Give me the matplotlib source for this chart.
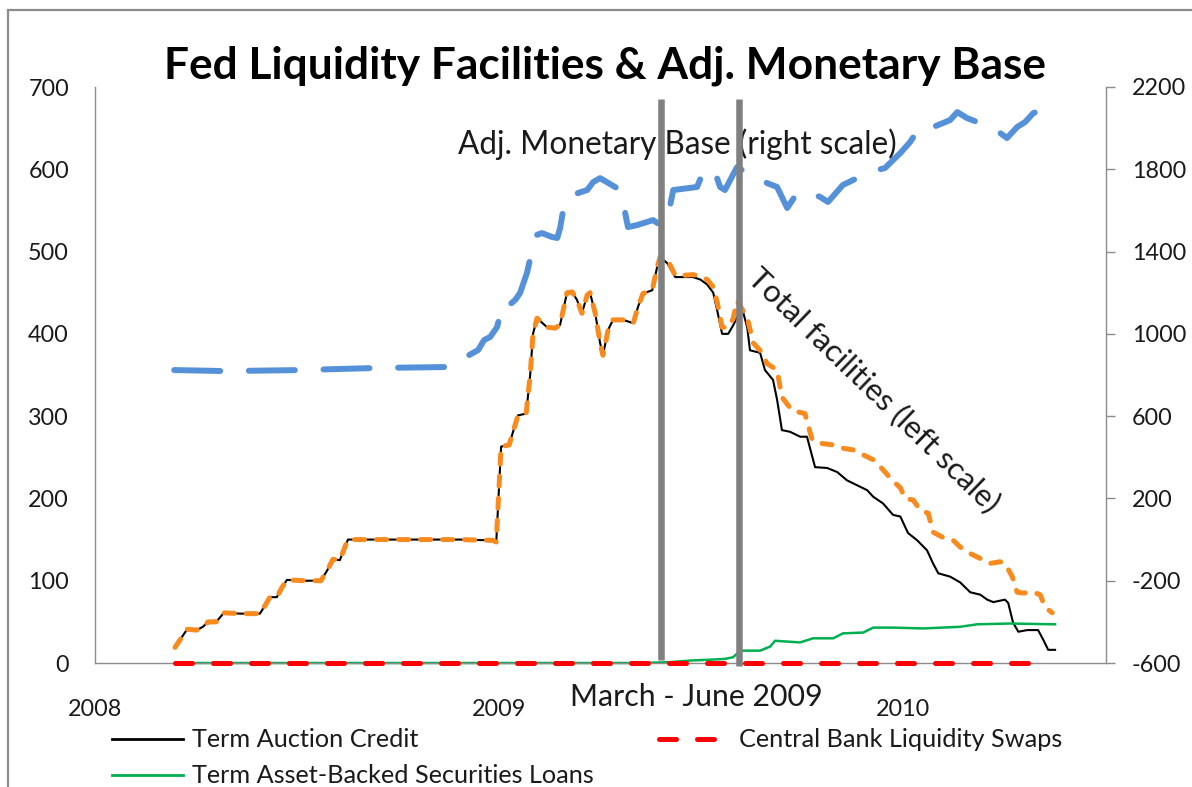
import matplotlib
matplotlib.use("Agg")
import matplotlib.pyplot as plt
from matplotlib.lines import Line2D
from matplotlib.patches import Rectangle

# ---------------- data ----------------
# Term Auction Credit (left scale, $bn)
tac_x = [2008.198, 2008.213, 2008.228, 2008.252, 2008.267, 2008.280, 2008.300, 2008.319, 2008.359, 2008.408,
         2008.421, 2008.433, 2008.450, 2008.463, 2008.475, 2008.520, 2008.559, 2008.574, 2008.589, 2008.606,
         2008.616, 2008.626, 2008.705, 2008.804, 2008.903, 2008.985, 2008.993, 2009.005, 2009.025, 2009.037,
         2009.047, 2009.067, 2009.077, 2009.084, 2009.094, 2009.119, 2009.139, 2009.151, 2009.168, 2009.181,
         2009.193, 2009.205, 2009.218, 2009.225, 2009.238, 2009.250, 2009.257, 2009.270, 2009.282, 2009.307,
         2009.332, 2009.344, 2009.356, 2009.379, 2009.391, 2009.399, 2009.416, 2009.436, 2009.455, 2009.480,
         2009.498, 2009.515, 2009.530, 2009.540, 2009.552, 2009.567, 2009.579, 2009.601, 2009.614, 2009.621,
         2009.646, 2009.658, 2009.678, 2009.688, 2009.700, 2009.720, 2009.745, 2009.762, 2009.782, 2009.812,
         2009.837, 2009.861, 2009.886, 2009.911, 2009.926, 2009.950, 2009.975, 2009.993, 2010.012, 2010.035,
         2010.059, 2010.074, 2010.087, 2010.116, 2010.141, 2010.166, 2010.191, 2010.208, 2010.223, 2010.252,
         2010.260, 2010.272, 2010.285, 2010.307, 2010.334, 2010.347, 2010.359, 2010.376]
tac_y = [19, 30, 41, 40, 44, 50, 50, 61, 60, 60,
         70, 80, 80, 92, 101, 100, 100, 112, 126, 125,
         138, 150, 150, 150, 150, 149, 147, 263, 265, 285,
         301, 303, 350, 400, 419, 408, 407, 411, 450, 451,
         441, 425, 447, 450, 425, 389, 374, 405, 417, 417,
         413, 433, 449, 453, 481, 493, 486, 469, 469, 469,
         466, 460, 450, 428, 400, 400, 410, 432, 408, 380,
         377, 356, 344, 320, 283, 281, 275, 275, 238, 237,
         232, 222, 216, 210, 202, 194, 180, 178, 158, 149,
         137, 121, 109, 105, 98, 86, 83, 77, 74, 77,
         73, 49, 38, 40, 40, 28, 16, 16]

# Total facilities (left scale): identical to TAC readings until spring 2009, then read separately
total_late_x = [2009.379, 2009.391, 2009.399, 2009.416, 2009.436, 2009.455, 2009.480, 2009.498, 2009.515, 2009.530,
                2009.540, 2009.552, 2009.567, 2009.579, 2009.589, 2009.614, 2009.629, 2009.646, 2009.663, 2009.688,
                2009.700, 2009.725, 2009.757, 2009.775, 2009.795, 2009.827, 2009.851, 2009.876, 2009.901, 2009.926,
                2009.950, 2009.973, 2009.993, 2010.005, 2010.025, 2010.042, 2010.062, 2010.074, 2010.097, 2010.124,
                2010.141, 2010.166, 2010.191, 2010.215, 2010.240, 2010.252, 2010.270, 2010.282, 2010.297, 2010.322,
                2010.339, 2010.351, 2010.369]
total_late_y = [453, 481, 494, 491, 471, 471, 472, 470, 466, 457,
                438, 408, 408, 418, 440, 420, 389, 380, 364, 356,
                323, 307, 303, 271, 267, 265, 261, 259, 253, 247,
                235, 222, 213, 200, 198, 186, 182, 159, 153, 149,
                141, 133, 127, 121, 123, 121, 105, 86, 85, 86,
                83, 68, 61]
total_x = tac_x[:53] + total_late_x
total_y = tac_y[:53] + total_late_y

# Term Asset-Backed Securities Loans (left scale)
tabs_x = [2008.198, 2009.349, 2009.423, 2009.473, 2009.522, 2009.559, 2009.579, 2009.597, 2009.646, 2009.671,
          2009.683, 2009.745, 2009.777, 2009.827, 2009.851, 2009.901, 2009.926, 2009.975, 2010.050, 2010.141,
          2010.183, 2010.265, 2010.376]
tabs_y = [0, 0, 1, 3, 4, 5, 7, 15, 15, 20,
          27, 25, 30, 30, 36, 37, 43, 43, 42, 44,
          47, 48, 47]

# Central Bank Liquidity Swaps (left scale)
swaps_x = [2008.198, 2010.330]
swaps_y = [0, 0]

# Adjusted Monetary Base (right scale)
base_x = [2008.196, 2008.324, 2008.507, 2008.693, 2008.879, 2008.926, 2008.948, 2008.963, 2008.978, 2008.995,
          2009.010, 2009.025, 2009.040, 2009.052, 2009.069, 2009.082, 2009.092, 2009.106, 2009.131, 2009.144,
          2009.151, 2009.163, 2009.176, 2009.196, 2009.218, 2009.233, 2009.250, 2009.300, 2009.312, 2009.319,
          2009.342, 2009.381, 2009.399, 2009.416, 2009.431, 2009.490, 2009.502, 2009.517, 2009.535, 2009.547,
          2009.559, 2009.589, 2009.609, 2009.629, 2009.646, 2009.663, 2009.688, 2009.713, 2009.738, 2009.770,
          2009.795, 2009.814, 2009.851, 2009.886, 2009.918, 2009.955, 2009.993, 2010.017, 2010.042, 2010.074,
          2010.116, 2010.134, 2010.158, 2010.183, 2010.220, 2010.257, 2010.282, 2010.302, 2010.322, 2010.344]
base_y = [824, 819, 824, 834, 839, 897, 921, 970, 985, 1033,
          1150, 1140, 1165, 1199, 1296, 1408, 1480, 1490, 1471, 1466,
          1514, 1651, 1665, 1685, 1699, 1738, 1757, 1699, 1588, 1519,
          1529, 1553, 1529, 1553, 1699, 1714, 1772, 1806, 1782, 1714,
          1699, 1811, 1787, 1772, 1762, 1733, 1714, 1612, 1685, 1685,
          1665, 1641, 1724, 1757, 1787, 1806, 1879, 1932, 2005, 2005,
          2039, 2078, 2049, 2030, 2005, 1952, 2005, 2030, 2073, 2088]

marker_years = [2009.401, 2009.594]          # "March - June 2009" markers
left_ticks = [0, 100, 200, 300, 400, 500, 600, 700]
right_ticks = [-600, -200, 200, 600, 1000, 1400, 1800, 2200]
year_ticks = [2008, 2009, 2010]

title = "Fed Liquidity Facilities & Adj. Monetary Base"
legend_labels = ["Term Auction Credit", "Central Bank Liquidity Swaps", "Term Asset-Backed Securities Loans"]

# ---------------- style ----------------
W, H, DPI = 1192, 787, 100
FAM = ["Lato", "DejaVu Sans"]
plt.rcParams["font.family"] = FAM
ORANGE = "#F98A1E"
BLUE = "#5591D8"
GREEN = "#00B050"
RED = "#FF0000"
GRAY = "#808080"
SPINE = "#8C8C8C"
TXT = "#1A1A1A"

fig = plt.figure(figsize=(W / DPI, H / DPI), dpi=DPI)
renderer = fig.canvas.get_renderer()


def fit(txt, target_px, **kw):
    t = fig.text(0, 0, txt, fontsize=20, **kw)
    w = t.get_window_extent(renderer).width
    t.remove()
    return 20.0 * target_px / w


def fx(px):
    return px / W


def fy(py):
    return 1 - py / H


tick_fs = fit("2200", 54)
leg_fs = fit("Term Auction Credit", 227)

ax = fig.add_axes([fx(95), fy(663), (1106 - 95) / W, (663 - 87) / H])
ax2 = ax.twinx()

ax.plot(tac_x, tac_y, color="black", lw=1.5, zorder=2)
ax.plot(tabs_x, tabs_y, color=GREEN, lw=1.8, zorder=2, clip_on=False)
ax.plot(total_x, total_y, color=ORANGE, lw=3.6, dashes=(2.0, 2.4), dash_capstyle="round", zorder=3)
ax.plot(swaps_x, swaps_y, color=RED, lw=3.6, dashes=(3.4, 4.2), dash_capstyle="round", zorder=4, clip_on=False)
ax2.plot(base_x, base_y, color=BLUE, lw=4.3, dashes=(7.7, 4.8), dash_capstyle="round", zorder=2)

ax.set_xlim(2008, 2010.502)
ax.set_ylim(0, 700)
ax2.set_ylim(-600, 2200)
ax.set_xticks(year_ticks)
ax.set_xticklabels([str(v) for v in year_ticks])
ax.set_yticks(left_ticks)
ax.set_yticklabels([str(v) for v in left_ticks])
ax2.set_yticks(right_ticks)
ax2.set_yticklabels([str(v) for v in right_ticks])

ax.tick_params(axis="y", length=0, pad=18.7, labelsize=tick_fs, labelcolor=TXT)
ax.tick_params(axis="x", length=0, pad=26, labelsize=tick_fs, labelcolor=TXT)
ax2.tick_params(axis="y", length=6.5, width=1.0, color=SPINE, direction="out", pad=12.2,
                labelsize=tick_fs, labelcolor=TXT)

for s in ["top", "right"]:
    ax.spines[s].set_visible(False)
for s in ["top", "left", "bottom"]:
    ax2.spines[s].set_visible(False)
for sp in [ax.spines["left"], ax.spines["bottom"], ax2.spines["right"]]:
    sp.set_color(SPINE)
    sp.set_linewidth(1.0)

# vertical markers
for xv, ymin in zip(marker_years, [0.005, -0.005]):
    ax2.axvline(xv, ymin=ymin, ymax=(663 - 99) / 576, color=GRAY, lw=4.7, zorder=10,
                clip_on=False, solid_capstyle="butt")

# texts
fig.text(fx(605), fy(78), title, ha="center", va="baseline", weight="bold",
         fontsize=fit(title, 884, weight="bold"), color="black")
amb = "Adj. Monetary Base (right scale)"
ax2.text(fx(677.5), fy(154), amb, transform=fig.transFigure, ha="center", va="baseline",
         fontsize=fit(amb, 439), color=TXT, zorder=1)
tf = "Total facilities (left scale)"
fig.text(fx(874), fy(390), tf, ha="center", va="center", rotation=-44, rotation_mode="anchor",
         fontsize=fit(tf, 340), color=TXT)
mj = "March - June 2009"
fig.text(fx(696.5), fy(706), mj, ha="center", va="baseline", fontsize=fit(mj, 253), color=TXT)

# legend (drawn manually to match layout)
fig.add_artist(Line2D([fx(112), fx(183)], [fy(739), fy(739)], transform=fig.transFigure,
                      color="black", lw=2.0))
fig.text(fx(192), fy(747), legend_labels[0], ha="left", va="baseline", fontsize=leg_fs, color=TXT)
fig.add_artist(Line2D([fx(112), fx(183)], [fy(775), fy(775)], transform=fig.transFigure,
                      color=GREEN, lw=2.0))
fig.text(fx(192), fy(783), legend_labels[2], ha="left", va="baseline", fontsize=leg_fs, color=TXT)
fig.add_artist(Line2D([fx(659), fx(715)], [fy(739), fy(739)], transform=fig.transFigure,
                      color=RED, lw=3.6, dashes=(3.4, 4.2), dash_capstyle="round"))
fig.text(fx(739), fy(747), legend_labels[1], ha="left", va="baseline", fontsize=leg_fs, color=TXT)

# outer chart frame
fig.add_artist(Rectangle((fx(8), -0.5), 2.0, fy(10) + 0.5, transform=fig.transFigure,
                         fill=False, edgecolor="#8C8C8C", lw=1.6, clip_on=False))

fig.savefig("out.png", dpi=DPI)
